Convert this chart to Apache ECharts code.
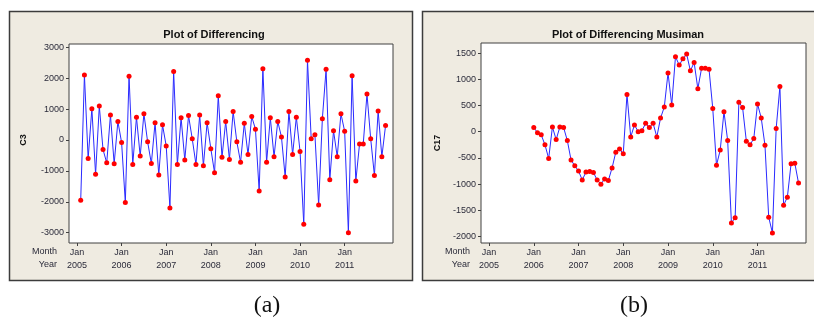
<!DOCTYPE html>
<html>
<head>
<meta charset="utf-8">
<script src="https://cdn.jsdelivr.net/npm/echarts@6/dist/echarts.min.js"></script>
<style>
html,body{margin:0;padding:0;background:#fff;}
#chart{width:814px;height:322px;}
</style>
</head>
<body>
<div id="chart"></div>
<script>
// Month index 0 = Jan 2005
const yearLabels = ['2005','2006','2007','2008','2009','2010','2011'];
const monthLabel = 'Jan';
const yearTickMonths = [0,12,24,36,48,60,72];

// Plot of Differencing (C3), Feb 2005 .. Dec 2011
const diffStart = 1;
const diffValues = [
  -1950, 2100, -600, 1010, -1110, 1100, -310, -740, 810, -765, 600, -80,
  -2020, 2060, -790, 735, -520, 850, -60, -760, 560, -1130, 490, -190,
  -2200, 2220, -790, 720, -650, 790, 40, -790, 810, -830, 560, -280,
  -1060, 1430, -560, 600, -630, 920, -60, -720, 540, -470, 760, 350,
  -1650, 2310, -720, 720, -540, 600, 100, -1200, 920, -470, 740, -370,
  -2730, 2580, 40, 170, -2100, 690, 2290, -1290, 300, -540, 850, 280,
  -3000, 2080, -1330, -130, -130, 1490, 40, -1150, 940, -540, 470
];

// Plot of Differencing Musiman (C17), Jan 2006 .. Dec 2011
const seasStart = 12;
const seasValues = [
  80, -20, -60, -250, -510, 90, -150, 90, 80, -170, -540, -650,
  -750, -920, -770, -760, -780, -920, -1000, -900, -930, -690, -390, -330,
  -420, 710, -100, 130, 0, 20, 160, 80, 160, -100, 260, 470,
  1120, 510, 1430, 1270, 1390, 1480, 1160, 1320, 820, 1210, 1210, 1190,
  440, -640, -350, 380, -170, -1740, -1640, 560, 460, -180, -250, -130,
  530, 260, -260, -1630, -1930, 60, 860, -1400, -1250, -610, -600, -980
];

const ticksC3 = [-3000,-2000,-1000,0,1000,2000,3000];
const ticksC17 = [-2000,-1500,-1000,-500,0,500,1000,1500];

function pairs(start, vals){ return vals.map((v,i)=>[start+i, v]); }

const labelColor = '#2b2b3a';
const axisColor = '#404040';
const sansFont = 'Liberation Sans, Arial, sans-serif';

function xAxisDef(gridIndex){
  return {
    type:'value', gridIndex, min:-2.15, max:85, position:'bottom',
    axisLine:{show:false, onZero:false}, splitLine:{show:false},
    axisTick:{show:true, customValues:yearTickMonths, length:3, lineStyle:{color:axisColor}},
    axisLabel:{show:true, customValues:yearTickMonths, margin:3, lineHeight:13,
      fontSize:9, fontFamily:sansFont, color:labelColor,
      formatter:(v)=> monthLabel + '\n' + yearLabels[Math.round(v/12)]}
  };
}
function yAxisDef(gridIndex, min, max, ticks){
  return {
    type:'value', gridIndex, min, max, position:'left',
    axisLine:{show:false, onZero:false}, splitLine:{show:false},
    axisTick:{show:true, customValues:ticks, length:3, lineStyle:{color:axisColor}},
    axisLabel:{show:true, customValues:ticks, margin:5, fontSize:9, fontFamily:sansFont, color:labelColor,
      formatter:(v)=> String(v)}
  };
}
function lineSeries(idx, data){
  return {
    type:'line', xAxisIndex:idx, yAxisIndex:idx, data,
    lineStyle:{color:'#2a2aff', width:1},
    itemStyle:{color:'#ff0000'},
    symbol:'circle', symbolSize:5, showSymbol:true, animation:false,
    emphasis:{disabled:true}
  };
}

const frameFill = '#efebe1';
const frameStroke = '#3c3c3c';

const chart = echarts.init(document.getElementById('chart'), null, {renderer:'canvas'});
chart.setOption({
  backgroundColor:'#ffffff',
  animation:false,
  title:[
    {text:'Plot of Differencing', left:209, top:24, textAlign:'center',
      textStyle:{fontSize:11, fontWeight:'bold', fontFamily:sansFont, color:'#111'}},
    {text:'Plot of Differencing Musiman', left:623, top:24, textAlign:'center',
      textStyle:{fontSize:11, fontWeight:'bold', fontFamily:sansFont, color:'#111'}}
  ],
  grid:[
    {left:69, top:44, width:324, height:199, show:true, backgroundColor:'#ffffff', borderColor:axisColor, borderWidth:1, containLabel:false},
    {left:481, top:43, width:325, height:200, show:true, backgroundColor:'#ffffff', borderColor:axisColor, borderWidth:1, containLabel:false}
  ],
  xAxis:[xAxisDef(0), xAxisDef(1)],
  yAxis:[yAxisDef(0,-3333,3107,ticksC3), yAxisDef(1,-2122,1691,ticksC17)],
  series:[lineSeries(0, pairs(diffStart, diffValues)), lineSeries(1, pairs(seasStart, seasValues))],
  graphic:{elements:[
    {type:'rect', z:-10, silent:true, shape:{x:9.5, y:11.5, width:403, height:269}, style:{fill:frameFill, stroke:frameStroke, lineWidth:1.5}},
    {type:'rect', z:-10, silent:true, shape:{x:422.5, y:11.5, width:400, height:269}, style:{fill:frameFill, stroke:frameStroke, lineWidth:1.5}},
    {type:'text', x:24, y:140, rotation:Math.PI/2, style:{text:'C3', fontSize:9, fontWeight:'bold', fontFamily:sansFont, fill:'#111', align:'center', verticalAlign:'middle'}},
    {type:'text', x:438, y:143, rotation:Math.PI/2, style:{text:'C17', fontSize:9, fontWeight:'bold', fontFamily:sansFont, fill:'#111', align:'center', verticalAlign:'middle'}},
    {type:'text', x:57, y:252, style:{text:'Month', fontSize:9, fontFamily:sansFont, fill:labelColor, align:'right', verticalAlign:'middle'}},
    {type:'text', x:57, y:265, style:{text:'Year', fontSize:9, fontFamily:sansFont, fill:labelColor, align:'right', verticalAlign:'middle'}},
    {type:'text', x:470, y:252, style:{text:'Month', fontSize:9, fontFamily:sansFont, fill:labelColor, align:'right', verticalAlign:'middle'}},
    {type:'text', x:470, y:265, style:{text:'Year', fontSize:9, fontFamily:sansFont, fill:labelColor, align:'right', verticalAlign:'middle'}},
    {type:'text', x:267, y:306, style:{text:'(a)', fontSize:24, fontFamily:'Liberation Serif, DejaVu Serif, serif', fill:'#111', align:'center', verticalAlign:'middle'}},
    {type:'text', x:634, y:306, style:{text:'(b)', fontSize:24, fontFamily:'Liberation Serif, DejaVu Serif, serif', fill:'#111', align:'center', verticalAlign:'middle'}}
  ]}
});
</script>
</body>
</html>
